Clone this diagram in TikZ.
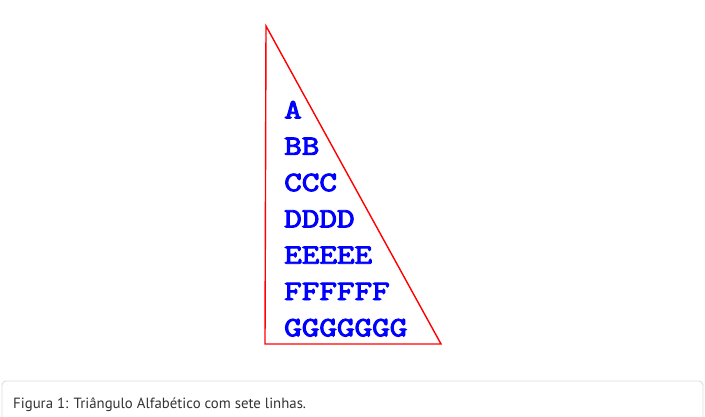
\documentclass[tikz,border=0pt]{standalone}
\usepackage{fontspec}
\setmainfont{PT Sans}
\newfontfamily\alphafont[FakeBold=3.2]{Latin Modern Mono}
\usepackage{graphicx}
\usepackage{tikz}
\usetikzlibrary{calc}
\definecolor{TriLine}{RGB}{255,0,0}
\definecolor{TriText}{RGB}{0,0,255}
\definecolor{CapLine}{RGB}{221,221,221}
\definecolor{CapText}{RGB}{51,51,51}
\newcommand{\rowtxt}[1]{\scalebox{1.22}[1]{#1}}
\tikzset{
  tri_edge/.style={draw=TriLine, line width=1.4pt, line join=miter},
  tri_row/.style={
    anchor=base west, inner sep=0pt,
    text=TriText, font=\alphafont\fontsize{28}{30}\selectfont},
  cap_box/.style={draw=CapLine, line width=0.9pt, rounded corners=4pt, fill=white},
  cap_txt/.style={anchor=base west, inner sep=0pt, text=CapText,
    font=\fontsize{14.8}{16}\selectfont},
}

\begin{document}
\begin{tikzpicture}[x=1pt,y=-1pt]
\useasboundingbox (0,0) rectangle (705,417);
% triangle corners
\coordinate (top) at (266,26);
\coordinate (bl) at (265,344);
\coordinate (br) at (441,344);
\draw[tri_edge] (top) -- (bl) -- (br) -- cycle;
% the seven rows
\node[tri_row] (rowA) at (284,118.5) {\rowtxt{A}};
\node[tri_row] (rowB) at (284,154.8) {\rowtxt{BB}};
\node[tri_row] (rowC) at (284,191.1) {\rowtxt{CCC}};
\node[tri_row] (rowD) at (284,227.4) {\rowtxt{DDDD}};
\node[tri_row] (rowE) at (284,263.7) {\rowtxt{EEEEE}};
\node[tri_row] (rowF) at (284,300.0) {\rowtxt{FFFFFF}};
\node[tri_row] (rowG) at (284,336.3) {\rowtxt{GGGGGGG}};
% caption
\begin{scope}
\clip (0,0) rectangle (705,417);
\draw[cap_box] (2,381) rectangle (703,440);
\end{scope}
\node[cap_txt] (caption) at (13,408) {Figura 1: Triângulo Alfabético com sete linhas.};
\end{tikzpicture}
\end{document}
